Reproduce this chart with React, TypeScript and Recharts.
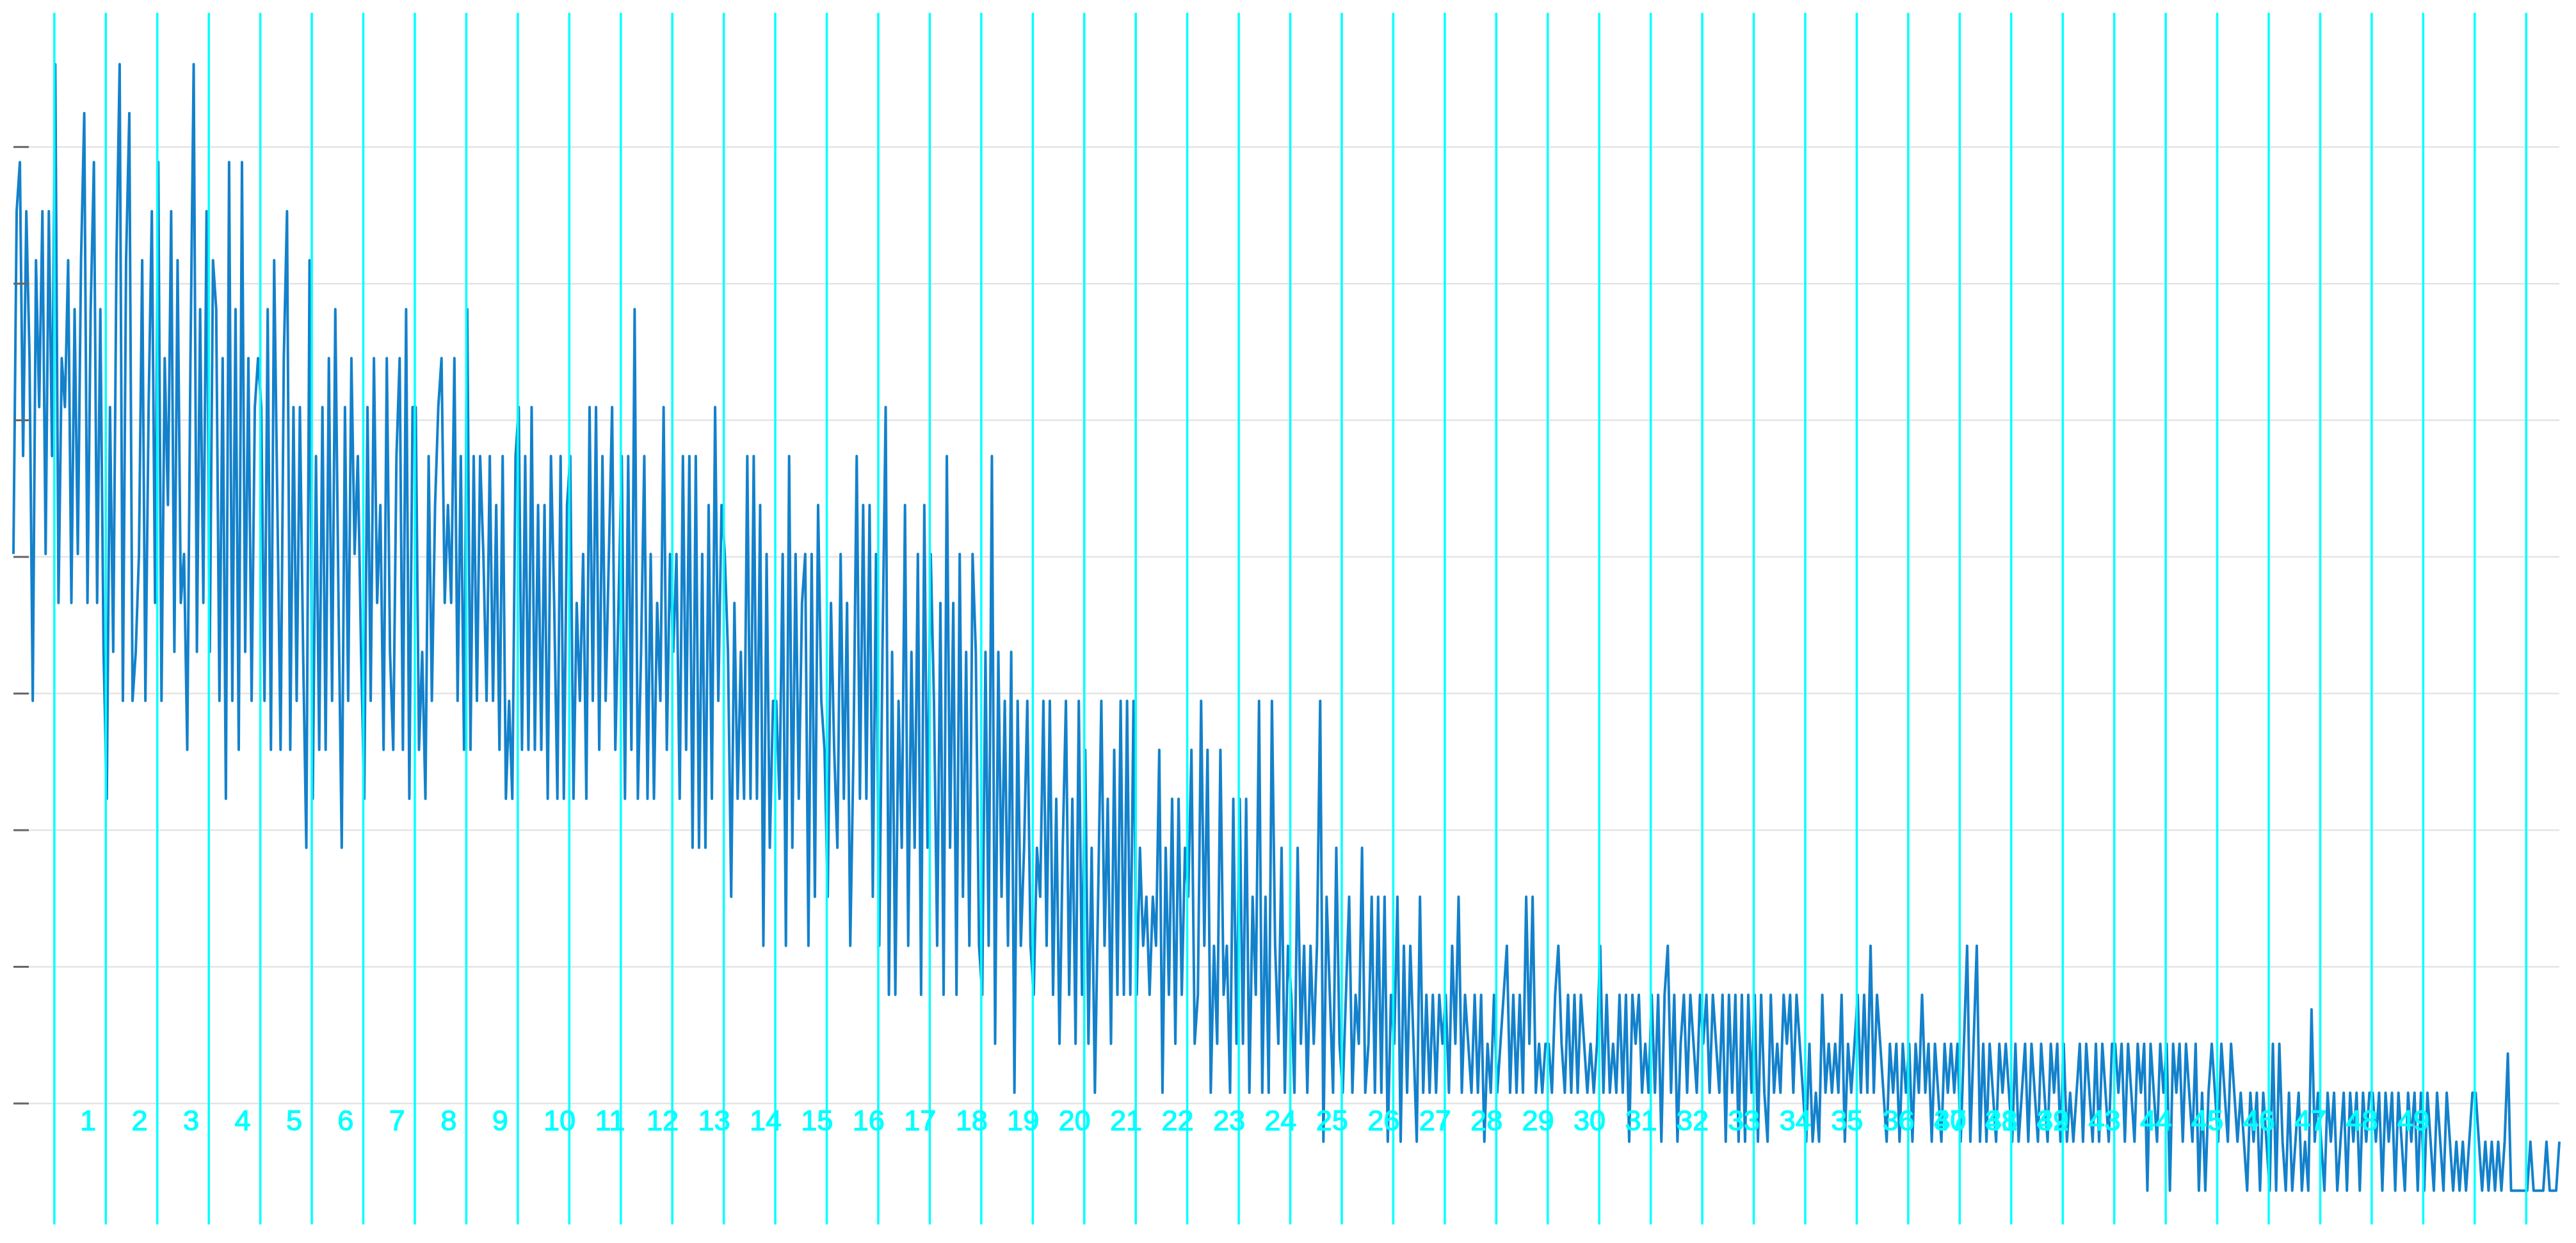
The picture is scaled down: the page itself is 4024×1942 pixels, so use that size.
import { LineChart, Line, XAxis, YAxis, CartesianGrid, ReferenceLine } from 'recharts';

// values, one row per chapter gap (16 samples each)
const lead = [13, 20, 21, 15, 20, 17, 10, 19, 16, 20, 13, 20, 15];

const chapters1to8 = [
    23, 12, 17, 16, 19, 12, 18, 13, 19, 22, 12, 18, 21, 12, 18, 11,
    8, 16, 11, 19, 23, 10, 19, 22, 10, 11, 13, 19, 10, 16, 20, 12,
    21, 10, 17, 14, 20, 11, 19, 12, 13, 9, 17, 23, 11, 18, 12, 20,
    11, 19, 18, 10, 17, 8, 21, 10, 18, 9, 21, 11, 17, 10, 16, 17,
    16, 10, 18, 9, 19, 14, 9, 17, 20, 9, 16, 10, 16, 11, 7, 19,
    8, 15, 9, 16, 9, 17, 10, 18, 12, 7, 16, 10, 17, 13, 15, 11,
    8, 16, 10, 17, 12, 14, 9, 17, 11, 9, 15, 17, 9, 18, 8, 16,
    16, 9, 11, 8, 15, 10, 14, 16, 17, 12, 14, 12, 17, 10, 15, 9,
];

const chapters9to16 = [
    18, 9, 15, 10, 15, 13, 10, 15, 10, 14, 9, 15, 8, 10, 8, 15,
    16, 9, 15, 9, 16, 9, 14, 9, 14, 8, 15, 12, 8, 15, 8, 14,
    15, 8, 12, 10, 13, 8, 16, 10, 16, 9, 15, 10, 13, 16, 9, 12,
    15, 8, 15, 9, 18, 8, 11, 15, 8, 13, 8, 12, 10, 16, 9, 13,
    11, 13, 8, 15, 9, 15, 7, 15, 7, 13, 7, 14, 8, 16, 10, 14,
    13, 11, 6, 12, 8, 11, 8, 15, 8, 15, 8, 14, 5, 13, 7, 10,
    10, 8, 13, 5, 15, 7, 13, 8, 12, 13, 5, 13, 6, 14, 10, 9,
    6, 12, 9, 7, 13, 8, 12, 5, 9, 15, 8, 14, 8, 14, 6, 13,
];

const chapters17to24 = [
    5, 11, 16, 4, 11, 4, 10, 7, 14, 5, 11, 7, 13, 4, 14, 7,
    13, 10, 5, 12, 4, 15, 7, 12, 4, 13, 6, 11, 5, 13, 11, 5,
    4, 11, 5, 15, 3, 11, 6, 10, 5, 11, 2, 10, 5, 7, 10, 5,
    4, 7, 6, 10, 5, 10, 4, 8, 3, 7, 10, 4, 8, 3, 10, 4,
    9, 3, 7, 2, 6, 10, 5, 8, 3, 9, 4, 10, 4, 10, 4, 10,
    4, 7, 5, 6, 4, 6, 5, 9, 2, 7, 4, 8, 3, 8, 4, 7,
    6, 9, 3, 4, 10, 5, 9, 2, 5, 3, 9, 4, 5, 2, 8, 3,
    8, 3, 8, 2, 6, 4, 10, 2, 6, 2, 10, 5, 3, 7, 2, 5,
];

const chapters25to32 = [
    4, 2, 7, 3, 5, 2, 5, 3, 5, 10, 1, 6, 4, 2, 7, 3,
    2, 4, 6, 2, 4, 3, 7, 2, 3, 6, 2, 6, 2, 6, 1, 4,
    3, 6, 1, 5, 2, 5, 3, 1, 6, 2, 4, 2, 4, 2, 4, 3,
    4, 2, 5, 3, 6, 2, 4, 3, 2, 4, 2, 4, 1, 3, 2, 4,
    2, 3, 4, 5, 2, 4, 2, 4, 2, 6, 3, 6, 2, 3, 2, 3,
    3, 2, 4, 5, 3, 2, 4, 2, 4, 2, 4, 3, 2, 3, 2, 3,
    5, 2, 4, 2, 3, 2, 4, 2, 4, 1, 4, 3, 4, 2, 3, 2,
    4, 2, 4, 1, 4, 5, 2, 4, 1, 3, 4, 2, 4, 3, 2, 4,
];

const chapters33to40 = [
    3, 4, 2, 4, 3, 2, 4, 1, 4, 2, 4, 1, 4, 1, 4, 2,
    4, 1, 4, 2, 1, 4, 2, 3, 2, 4, 3, 4, 2, 4, 3, 2,
    1, 3, 1, 2, 1, 4, 2, 3, 2, 3, 2, 4, 1, 3, 2, 3,
    4, 2, 4, 2, 5, 2, 4, 3, 2, 1, 3, 2, 3, 1, 3, 2,
    3, 1, 3, 2, 4, 2, 3, 1, 3, 2, 1, 3, 2, 3, 2, 3,
    1, 3, 5, 1, 3, 5, 1, 3, 1, 3, 2, 1, 3, 2, 3, 2,
    1, 3, 1, 2, 3, 1, 3, 2, 1, 3, 2, 1, 3, 2, 3, 1,
    3, 1, 2, 1, 2, 3, 1, 3, 2, 1, 3, 1, 3, 2, 1, 3,
];

const chapters41to48 = [
    3, 2, 3, 1, 3, 2, 1, 3, 2, 3, 0, 3, 2, 1, 3, 2,
    3, 0, 3, 2, 3, 1, 3, 2, 1, 3, 0, 2, 0, 2, 3, 2,
    1, 3, 2, 1, 3, 2, 1, 2, 1, 0, 2, 1, 2, 0, 2, 1,
    0, 3, 0, 3, 1, 0, 2, 0, 1, 2, 0, 1, 0, 3.7, 1, 2,
    1, 0, 2, 1, 2, 0, 1, 2, 0, 2, 1, 2, 0, 2, 1, 2,
    2, 1, 2, 0, 2, 1, 2, 0, 2, 1, 0, 2, 1, 2, 0, 2,
    0, 2, 1, 0, 2, 1, 0, 2, 1, 0, 1, 0, 1, 0, 1, 2,
    2, 1, 0, 1, 0, 1, 0, 1, 0, 1, 2.8, 0, 0, 0, 0, 0,
];

const tail = [0, 1, 0, 0, 0, 0, 1, 0, 0, 0, 1];

// sample index where each cyan chapter line sits
const chapterLines = [
    12.7, 28.7, 44.7, 60.7, 76.7, 92.7, 108.7, 124.7, 140.7, 156.7,
    172.7, 188.7, 204.7, 220.7, 236.7, 252.7, 268.7, 284.7, 300.7, 316.7,
    332.7, 348.7, 364.7, 380.7, 396.7, 412.7, 428.7, 444.7, 460.7, 476.7,
    492.7, 508.7, 524.7, 540.7, 556.7, 572.7, 588.7, 604.7, 620.7, 636.7,
    652.7, 668.7, 684.7, 700.7, 716.7, 732.7, 748.7, 764.7, 780.7,
];

const chapterLabels = [
    '1', '2', '3', '4', '5', '6', '7', '8', '9', '10',
    '11', '12', '13', '14', '15', '16', '17', '18', '19', '20',
    '21', '22', '23', '24', '25', '26', '27', '28', '29', '30',
    '31', '32', '33', '34', '35', '36', '37', '38', '39', '40',
    '41', '42', '43', '44', '45', '46', '47', '48', '49',
];

// which line each label is printed next to (37-42 overlap in the original)
const labelSlots = [
    1, 2, 3, 4, 5, 6, 7, 8, 9, 10,
    11, 12, 13, 14, 15, 16, 17, 18, 19, 20,
    21, 22, 23, 24, 25, 26, 27, 28, 29, 30,
    31, 32, 33, 34, 35, 36, 37, 38, 39, 37,
    38, 39, 40, 41, 42, 43, 44, 45, 46,
];

const gridTicks = [1.78, 4.57, 7.36, 10.15, 12.94, 15.73, 18.52, 21.31];

const values = [
    ...lead, ...chapters1to8, ...chapters9to16, ...chapters17to24,
    ...chapters25to32, ...chapters33to40, ...chapters41to48, ...tail,
];
const data = values.map((v, i) => ({ i, v }));

const CYAN = '#00ffff';

const labelRenderer = (text: string) => (props: any) => {
    const vb = props.viewBox || { x: 0, y: 0 };
    return (
        <text
            x={vb.x + 40}
            y={vb.y + 1746}
            fill={CYAN}
            stroke={CYAN}
            strokeWidth={1.2}
            fontSize={45}
            fontFamily="'Liberation Sans', Arial, sans-serif"
            textAnchor="start"
        >
            {text}
        </text>
    );
};

export default function App() {
    return (
        <div style={{ width: 4000, height: 1926 }}>
            <LineChart
                width={4000}
                height={1926}
                data={data}
                margin={{ top: 12, right: 10, bottom: 21, left: 13 }}
            >
                <CartesianGrid vertical={false} stroke="#e4e4e4" strokeWidth={2.5} syncWithTicks />
                <XAxis type="number" dataKey="i" domain={[0, values.length - 1]} hide />
                <YAxis
                    type="number"
                    domain={[-0.69, 24.05]}
                    ticks={gridTicks}
                    interval={0}
                    mirror
                    axisLine={false}
                    tickFormatter={() => ''}
                    tickSize={24}
                    tickLine={{ stroke: '#666666', strokeWidth: 3 }}
                />
                <Line
                    type="linear"
                    dataKey="v"
                    stroke="#1381cb"
                    strokeWidth={4}
                    strokeLinejoin="round"
                    dot={false}
                    activeDot={false}
                    isAnimationActive={false}
                />
                {chapterLines.map((x, k) => (
                    <ReferenceLine key={`line-${k}`} x={x} stroke={CYAN} strokeWidth={3.5} />
                ))}
                {chapterLabels.map((txt, k) => (
                    <ReferenceLine
                        key={`lab-${k}`}
                        x={chapterLines[labelSlots[k] - 1]}
                        stroke="none"
                        label={labelRenderer(txt)}
                    />
                ))}
            </LineChart>
        </div>
    );
}
